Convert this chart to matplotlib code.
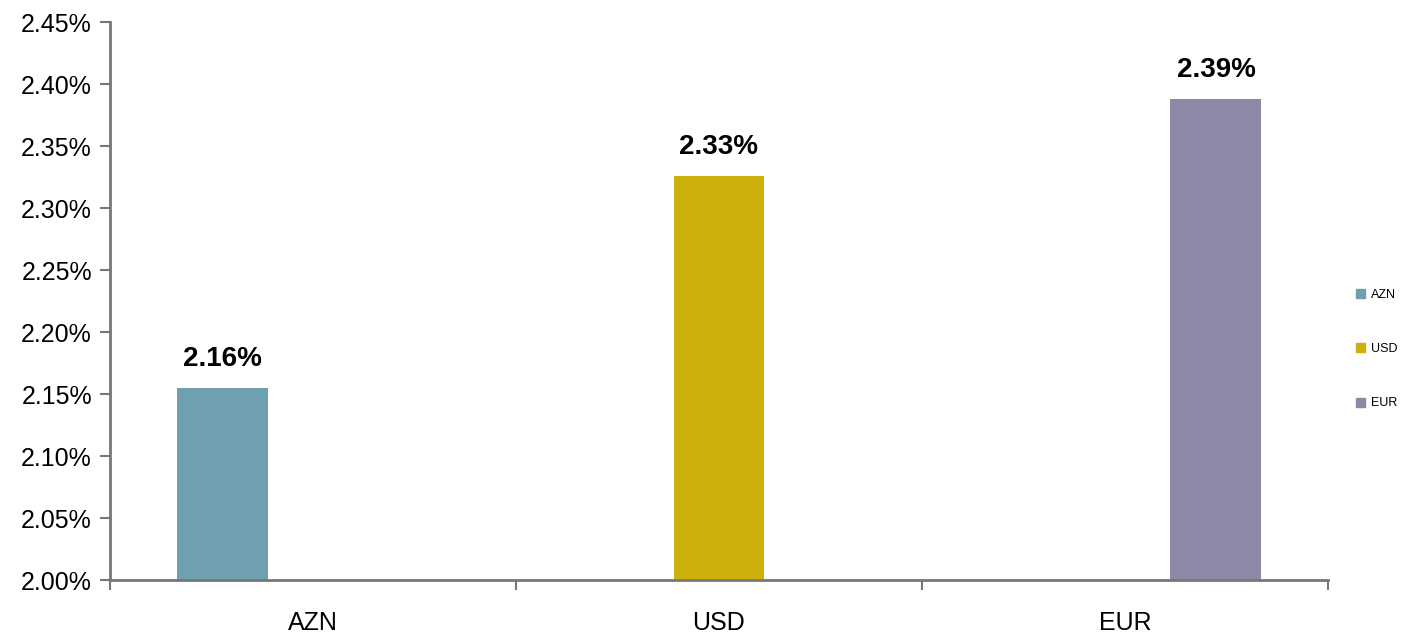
import matplotlib
matplotlib.use("Agg")
import matplotlib.pyplot as plt
import numpy as np
from matplotlib.ticker import FuncFormatter, FixedLocator

plt.rcParams['font.family'] = ['Liberation Sans', 'DejaVu Sans']

categories = ["AZN", "USD", "EUR"]
series_names = ["AZN", "USD", "EUR"]
values = [2.155, 2.326, 2.388]
labels = ["2.16%", "2.33%", "2.39%"]
colors = ["#6FA0B0", "#CCB00C", "#8E88A6"]

fig = plt.figure(figsize=(14.04, 6.33), dpi=100)
ax = fig.add_axes([110/1404, 1-580/633, (1328-110)/1404, (580-22)/633])

x = np.arange(len(categories))
w = 0.224
for i, name in enumerate(series_names):
    off = (i - 1) * w
    ax.bar(x[i] + off, values[i] - 2.0, bottom=2.0, width=w, color=colors[i], label=name)
    ax.text(x[i] + off, values[i] + 0.013, labels[i], ha='center', va='bottom',
            fontsize=20, fontweight='bold')

ax.set_xlim(-0.5, 2.5)
ax.set_ylim(2.0, 2.45)
ax.set_yticks(np.arange(2.0, 2.4501, 0.05))
ax.yaxis.set_major_formatter(FuncFormatter(lambda v, p: f"{v:.2f}%"))
ax.set_xticks(x)
ax.set_xticklabels(categories)
ax.xaxis.set_minor_locator(FixedLocator([-0.5, 0.5, 1.5, 2.5]))
ax.tick_params(axis='x', which='major', length=0, pad=22, labelsize=18)
ax.tick_params(axis='x', which='minor', length=7, width=1.5, color='#777777', direction='out')
ax.tick_params(axis='y', length=7, width=1.5, color='#777777', direction='out', labelsize=18, pad=6)

for s in ['top', 'right']:
    ax.spines[s].set_visible(False)
for s in ['left', 'bottom']:
    ax.spines[s].set_color('#777777')
    ax.spines[s].set_linewidth(2)

handles = [plt.Rectangle((0, 0), 1, 1, color=c) for c in colors]
leg = fig.legend(handles, series_names, loc='center left', bbox_to_anchor=(1356/1404, 1-349/633),
                 frameon=False, fontsize=9, handlelength=0.7, handleheight=0.7,
                 labelspacing=3.4, handletextpad=0.5, borderpad=0, borderaxespad=0)

fig.savefig("out.png", dpi=100)
